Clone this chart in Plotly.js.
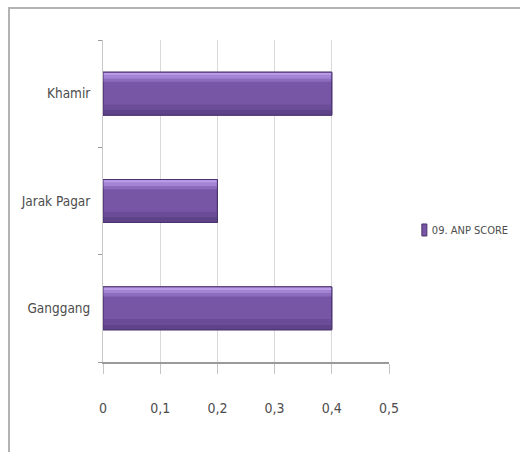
<!DOCTYPE html>
<html>
<head>
<meta charset="utf-8">
<script src="https://cdn.plot.ly/plotly-3.0.1.min.js"></script>
<style>
  html, body { margin: 0; padding: 0; background: #ffffff; }
  #wrap { position: relative; width: 520px; height: 452px; overflow: hidden; }
  #frame {
    position: absolute; left: 8px; top: 7px; width: 600px; height: 600px;
    border-left: 2px solid #b3b3b3; border-top: 2px solid #b3b3b3;
    pointer-events: none;
  }
  #chart { position: absolute; left: 0; top: 0; width: 520px; height: 452px; }
</style>
</head>
<body>
<div id="wrap">
  <div id="chart"></div>
  <div id="frame"></div>
</div>
<script>
// Plant categories (bottom to top) and their ANP scores
const categories = ["Ganggang", "Jarak Pagar", "Khamir"];
const anpScore = [0.4, 0.2, 0.4];
const seriesName = "09. ANP SCORE";
const xTickValues = [0, 0.1, 0.2, 0.3, 0.4, 0.5];
const xTickLabels = ["0", "0,1", "0,2", "0,3", "0,4", "0,5"];

const FONT = "'Liberation Sans Narrow', 'Arial Narrow', 'DejaVu Sans Condensed', sans-serif";

// layered bars give the bevelled look: body, dark lower band, light upper bands, outline
function layer(color, offset, width, lineColor, lineWidth, showLegend) {
  return {
    type: "bar",
    orientation: "h",
    x: anpScore,
    y: categories,
    name: seriesName,
    showlegend: !!showLegend,
    hoverinfo: showLegend ? "x+y" : "skip",
    offset: offset,
    width: width,
    marker: { color: color, line: { color: lineColor || "rgba(0,0,0,0)", width: lineWidth || 0 } }
  };
}

const traces = [
  layer("#7856a6", -0.2, 0.4, "#4a336e", 1, true),
  layer("#5f4389", -0.2, 0.05),
  layer("#6a4c98", -0.15, 0.05),
  layer("#8c6cbd", 0.11, 0.03),
  layer("#a484d4", 0.14, 0.03),
  layer("#b99be8", 0.17, 0.03),
  layer("rgba(0,0,0,0)", -0.2, 0.4, "#4a336e", 1)
];

const layout = {
  width: 520,
  height: 452,
  margin: { l: 103, r: 131, t: 40, b: 90, pad: 0, autoexpand: false },
  paper_bgcolor: "rgba(0,0,0,0)",
  plot_bgcolor: "rgba(0,0,0,0)",
  barmode: "overlay",
  font: { family: FONT, color: "#4d4d4d", size: 14 },
  xaxis: {
    range: [0, 0.5],
    tickvals: xTickValues,
    ticktext: xTickLabels,
    showgrid: true,
    gridcolor: "#d9d9d9",
    gridwidth: 1,
    zeroline: false,
    showline: true,
    linecolor: "#9a9a9a",
    linewidth: 1.5,
    ticks: "outside",
    ticklen: 10,
    tickcolor: "#c4c4c4",
    tickwidth: 1,
    ticklabelstandoff: 23,
    tickfont: { family: FONT, size: 14, color: "#4d4d4d" },
    fixedrange: true
  },
  yaxis: {
    type: "category",
    showgrid: false,
    zeroline: false,
    showline: true,
    linecolor: "#c8c8c8",
    linewidth: 1,
    ticks: "outside",
    tickson: "boundaries",
    ticklen: 4,
    tickcolor: "#9a9a9a",
    ticklabelstandoff: 9,
    tickfont: { family: FONT, size: 13.5, color: "#4d4d4d" },
    fixedrange: true
  },
  showlegend: true,
  legend: {
    x: 1.01,
    xanchor: "left",
    y: 0.41,
    yanchor: "middle",
    bgcolor: "rgba(0,0,0,0)",
    font: { family: FONT, size: 11, color: "#4d4d4d" },
    itemwidth: 30
  }
};

Plotly.newPlot("chart", traces, layout, { displayModeBar: false, staticPlot: true }).then(function (gd) {
  // slim, upright legend key placed just before its label
  gd.querySelectorAll(".legend .legendpoints path").forEach(function (p) {
    p.setAttribute("d", "M15,6H10V-6H15Z");
  });
});
</script>
</body>
</html>
